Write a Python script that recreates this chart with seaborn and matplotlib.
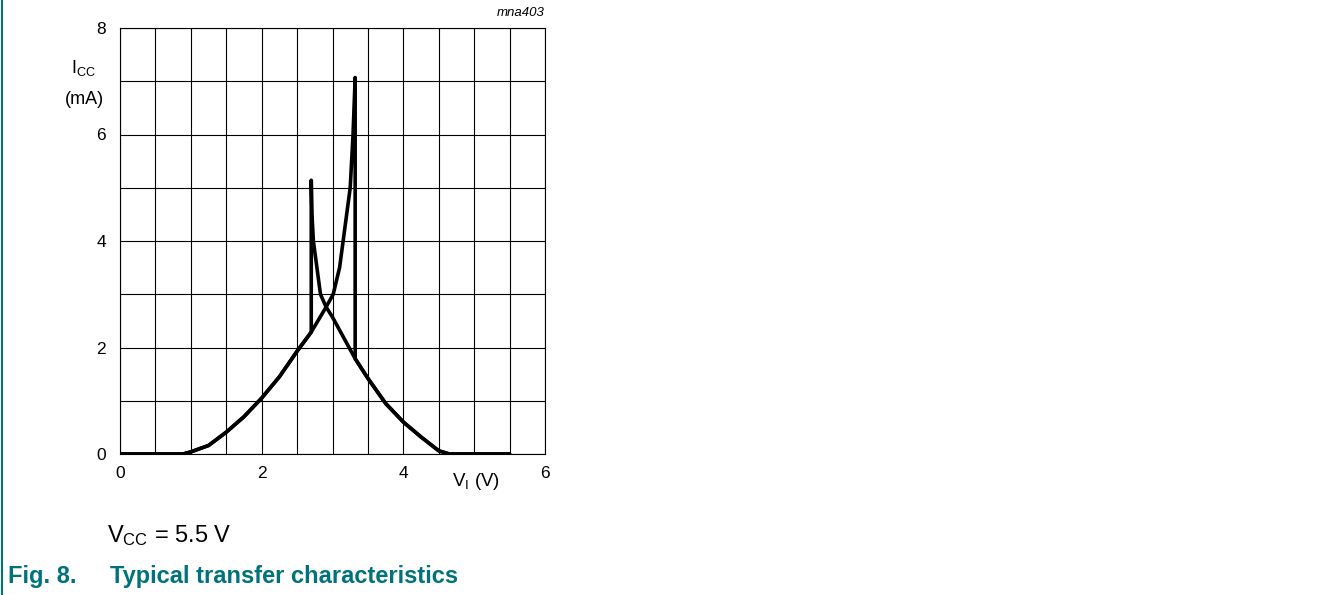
import matplotlib
matplotlib.use("Agg")
import matplotlib.pyplot as plt
import seaborn as sns
from matplotlib.ticker import MultipleLocator
from matplotlib.lines import Line2D

# sweep with V_I going up
up_v = [0, 0.89, 1.0, 1.25, 1.5, 1.75, 2.0, 2.25, 2.5, 2.70, 2.91, 3.01, 3.10,
        3.15, 3.25, 3.29, 3.32, 3.32, 3.5, 3.75, 4.0, 4.25, 4.5, 4.65, 5.5]
up_i = [0, 0, 0.04, 0.16, 0.41, 0.7, 1.05, 1.45, 1.93, 2.29, 2.76, 3.0, 3.5,
        4.0, 5.0, 6.0, 7.07, 1.79, 1.42, 0.95, 0.6, 0.32, 0.06, 0, 0]

# sweep with V_I going down
down_v = [5.5, 4.65, 4.5, 4.25, 4.0, 3.75, 3.5, 3.32, 3.0, 2.91, 2.83, 2.78,
          2.73, 2.71, 2.70, 2.70, 2.5, 2.25, 2.0, 1.75, 1.5, 1.25, 1.0, 0.89, 0]
down_i = [0, 0, 0.06, 0.32, 0.6, 0.95, 1.42, 1.79, 2.57, 2.76, 3.0, 3.5,
          4.0, 4.5, 5.14, 2.29, 1.93, 1.45, 1.05, 0.7, 0.41, 0.16, 0.04, 0, 0]

x_ticks = [0, 2, 4, 6]
y_ticks = [0, 2, 4, 6, 8]

sns.set_style("white")
plt.rcParams['font.family'] = ['Liberation Sans', 'DejaVu Sans']
plt.rcParams['mathtext.fontset'] = 'custom'
plt.rcParams['mathtext.rm'] = 'Liberation Sans'
plt.rcParams['mathtext.it'] = 'Liberation Sans:italic'
plt.rcParams['text.color'] = 'black'

fig = plt.figure(figsize=(13.23, 5.95), dpi=100)
ax = fig.add_axes([120 / 1323, 1 - 454 / 595, 425 / 1323, 426 / 595])

sns.lineplot(x=up_v, y=up_i, sort=False, estimator=None, color='black',
             linewidth=2.6, ax=ax)
sns.lineplot(x=down_v, y=down_i, sort=False, estimator=None, color='black',
             linewidth=2.6, ax=ax)

ax.set_xlim(0, 6)
ax.set_ylim(0, 8)
ax.set_xticks(x_ticks)
ax.set_yticks(y_ticks)
ax.xaxis.set_minor_locator(MultipleLocator(0.5))
ax.yaxis.set_minor_locator(MultipleLocator(1))
ax.grid(True, which='both', color='black', linewidth=0.8)
ax.tick_params(which='both', length=0, labelsize=12.5, colors='black')
ax.tick_params(axis='y', pad=10)
ax.tick_params(axis='x', pad=9)
for s in ax.spines.values():
    s.set_color('black')
    s.set_linewidth(0.8)
ax.set_axisbelow(True)

fig.text(83 / 1323, 1 - 73 / 595, r"I$_{\rm CC}$", ha='center', va='baseline',
         fontsize=13)
fig.text(84 / 1323, 1 - 99 / 595, "(mA)", ha='center', va='center',
         fontsize=13)
fig.text(476 / 1323, 1 - 481 / 595, r"V$_{\rm I}$ (V)", ha='center',
         va='center', fontsize=13.5)
fig.text(545 / 1323, 1 - 13 / 595, "mna403", ha='right', va='center',
         fontsize=9.5, style='italic')

fig.text(107 / 1323, 1 - 542 / 595, r"V$_{\rm CC}$ = 5.5 V", ha='left',
         va='baseline', fontsize=17)
teal = '#00727c'
fig.text(8 / 1323, 1 - 583 / 595, "Fig. 8.", ha='left', va='baseline',
         fontsize=17, fontweight='bold', color=teal)
fig.text(110 / 1323, 1 - 583 / 595, "Typical transfer characteristics",
         ha='left', va='baseline', fontsize=17, fontweight='bold', color=teal)
fig.add_artist(Line2D([2 / 1323, 2 / 1323], [0, 1], color=teal, linewidth=1.5))

fig.savefig('out.png', dpi=100)
